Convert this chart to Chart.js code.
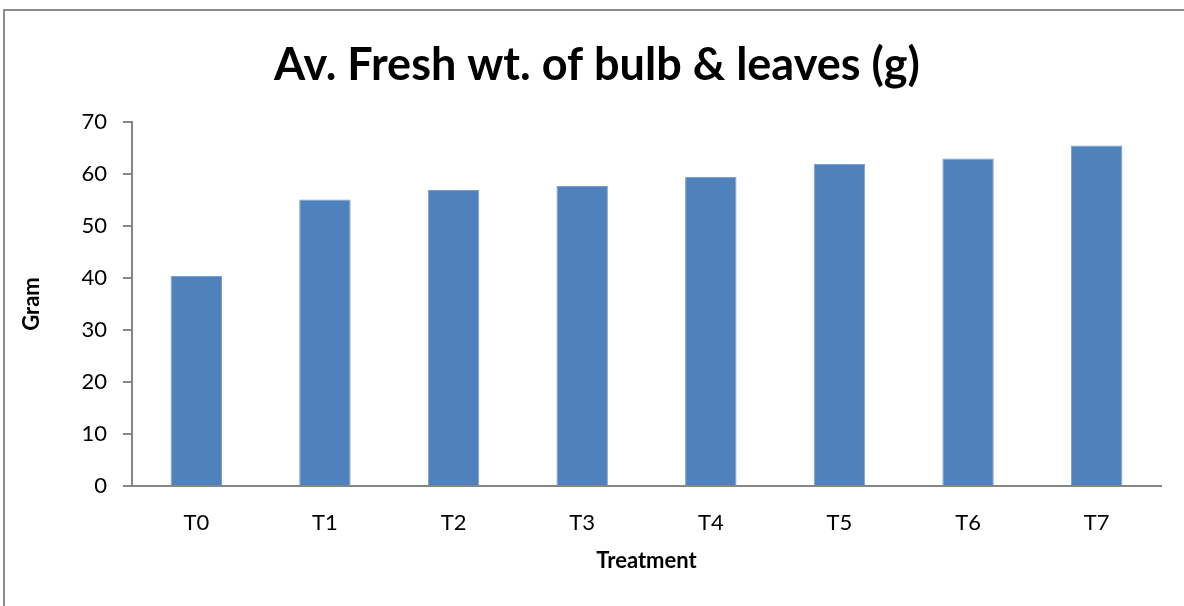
<!DOCTYPE html>
<html lang="en">
<head>
  <meta charset="UTF-8" />
  <title>Av. Fresh wt. of bulb & leaves</title>
  <script src="https://cdn.jsdelivr.net/npm/chart.js"></script>
  <style>
    html, body { margin: 0; padding: 0; background: #fff; }
    .frame {
      position: absolute; left: 3px; top: 9px; width: 1200px; height: 620px;
      border-left: 2px solid #8c8c8c; border-top: 2px solid #8c8c8c;
    }
    .wrap { position: absolute; left: 0; top: 0; width: 1184px; height: 606px; }
  </style>
</head>
<body>
  <div class="frame"></div>
  <div class="wrap"><canvas id="barChart"></canvas></div>

  <script>
    // chart data
    var treatments = ['T0', 'T1', 'T2', 'T3', 'T4', 'T5', 'T6', 'T7'];
    var freshWeight = [40.4, 55.1, 56.9, 57.7, 59.4, 61.9, 63.0, 65.5];
    var yTicks = [0, 10, 20, 30, 40, 50, 60, 70];

    var axisGrey = '#868686';
    var font = 'Lato, "Open Sans", sans-serif';

    var ctx = document.getElementById('barChart').getContext('2d');
    new Chart(ctx, {
      type: 'bar',
      data: {
        labels: treatments,
        datasets: [
          {
            label: 'Av. Fresh wt.',
            data: freshWeight,
            backgroundColor: '#4F81BD',
            borderColor: '#7a9fd0',
            borderWidth: 1,
            barPercentage: 0.4,
            categoryPercentage: 1
          }
        ]
      },
      options: {
        responsive: true,
        maintainAspectRatio: false,
        animation: false,
        // left padding shifts the title centre to match the original
        layout: { padding: { left: 33, right: 23, top: 0, bottom: 0 } },
        plugins: {
          legend: { display: false },
          tooltip: { enabled: false },
          title: {
            display: true,
            text: 'Av. Fresh wt. of bulb & leaves (g)',
            color: '#000',
            font: { family: font, size: 45, weight: 'bold' },
            padding: { top: 38, bottom: 30 }
          }
        },
        scales: {
          x: {
            grid: { display: false, drawTicks: false },
            border: { color: axisGrey, width: 2 },
            ticks: { color: '#000', font: { family: font, size: 22 }, padding: 24 },
            title: {
              display: true,
              text: 'Treatment',
              color: '#000',
              font: { family: font, size: 22, weight: 'bold' },
              padding: { top: 0, bottom: 32 }
            },
            afterFit: function (scale) { scale.height = 120; }
          },
          y: {
            min: 0,
            max: 70,
            afterBuildTicks: function (scale) {
              scale.ticks = yTicks.map(function (v) { return { value: v }; });
            },
            grid: { drawOnChartArea: false, drawTicks: true, tickLength: 9, color: axisGrey, lineWidth: 2 },
            border: { color: axisGrey, width: 2 },
            ticks: { color: '#000', font: { family: font, size: 22 }, padding: 16 },
            title: {
              display: true,
              text: 'Gram',
              color: '#000',
              font: { family: font, size: 22, weight: 'bold' },
              padding: { top: -14, bottom: 0 }
            },
            afterFit: function (scale) { scale.width = 99; }
          }
        }
      }
    });
  </script>
</body>
</html>
